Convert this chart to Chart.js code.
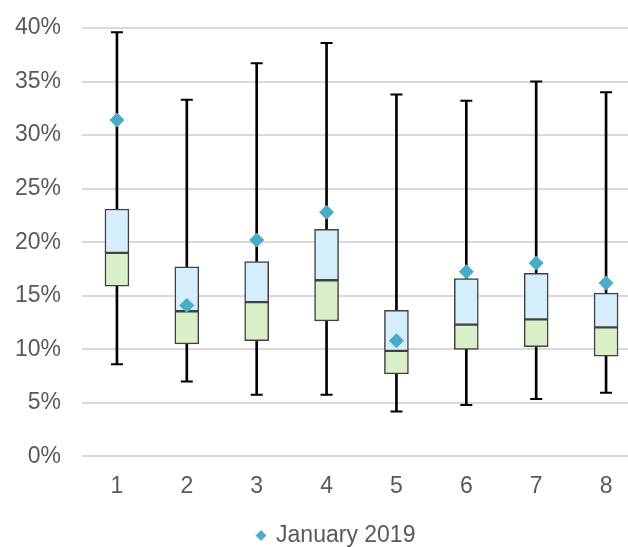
<!DOCTYPE html>
<html>
<head>
<meta charset="utf-8">
<script src="https://cdn.jsdelivr.net/npm/chart.js@4"></script>
<style>
  html, body { margin: 0; padding: 0; background: #fff; overflow: hidden; }
  #wrap { position: relative; width: 649px; height: 547px; }
</style>
</head>
<body>
<div id="wrap"><canvas id="box"></canvas></div>
<script>
// values in percent
const cats = ['1', '2', '3', '4', '5', '6', '7', '8'];
const whiskerMax = [39.6, 33.3, 36.7, 38.6, 33.8, 33.2, 35.0, 34.0];
const q3 = [23.1, 17.7, 18.2, 21.2, 13.65, 16.6, 17.1, 15.25];
const median = [19.0, 13.55, 14.4, 16.45, 9.85, 12.3, 12.8, 12.05];
const q1 = [15.9, 10.5, 10.8, 12.65, 7.7, 10.0, 10.25, 9.35];
const whiskerMin = [8.6, 7.0, 5.75, 5.75, 4.2, 4.8, 5.35, 5.95];
const jan2019 = [31.4, 14.1, 20.2, 22.8, 10.8, 17.25, 18.05, 16.2];
const yTicks = [0, 5, 10, 15, 20, 25, 30, 35, 40];

const TEXT = '#595959', GRID = '#d9d9d9', EDGE = '#404040';
const BLUE = '#d5eefc', GREEN = '#d9efc8', DIAMOND = '#4bacc6';

Chart.defaults.font.family = '"Liberation Sans", Arial, sans-serif';
Chart.defaults.font.size = 23;
Chart.defaults.color = TEXT;

const pair = (a, b) => a.map((v, i) => [v, b[i]]);

const whisker = data => ({
  type: 'bar', data, backgroundColor: '#000', barThickness: 2,
  grouped: false, order: 3, borderWidth: 0
});
const cap = data => ({
  type: 'line', data, showLine: false, pointStyle: 'line', pointRadius: 6,
  borderColor: '#000', pointBorderWidth: 2, order: 2
});
const boxPart = (data, fill) => ({
  type: 'bar', data, backgroundColor: fill, borderColor: EDGE, borderWidth: 1.5,
  borderSkipped: false, barThickness: 24, grouped: false, order: 1
});

// the original legend sits a little right of / below where Chart.js puts it
const LEGEND_DX = 12, LEGEND_DY = 8;
const legendShift = {
  id: 'legendShift',
  afterLayout(chart) {
    const lg = chart.legend;
    if (!lg) return;
    lg.left += LEGEND_DX; lg.right += LEGEND_DX;
    lg.top += LEGEND_DY; lg.bottom += LEGEND_DY;
  }
};

new Chart(document.getElementById('box'), {
  data: {
    labels: cats,
    datasets: [
      Object.assign(whisker(pair(whiskerMin, q1)), { label: 'low' }),
      Object.assign(whisker(pair(q3, whiskerMax)), { label: 'high' }),
      Object.assign(cap(whiskerMin), { label: 'min' }),
      Object.assign(cap(whiskerMax), { label: 'max' }),
      Object.assign(boxPart(pair(q1, median), GREEN), { label: 'q1' }),
      Object.assign(boxPart(pair(median, q3), BLUE), { label: 'q3' }),
      {
        type: 'line', label: 'January 2019', data: jan2019, showLine: false,
        pointStyle: 'rectRot', pointRadius: 7, pointBackgroundColor: DIAMOND,
        pointBorderColor: DIAMOND, pointBorderWidth: 1, backgroundColor: DIAMOND,
        borderColor: DIAMOND, order: 0
      }
    ]
  },
  options: {
    responsive: true, maintainAspectRatio: false, animation: false,
    layout: { padding: { left: 0, top: 28, right: 0, bottom: -2 } },
    plugins: {
      tooltip: { enabled: false },
      legend: {
        position: 'bottom',
        labels: {
          filter: item => item.text === 'January 2019',
          usePointStyle: true, boxWidth: 7, boxHeight: 7, padding: 0,
          color: TEXT, font: { size: 23 }
        }
      }
    },
    scales: {
      x: {
        grid: { display: false, drawTicks: false },
        border: { display: false },
        ticks: { padding: 16, color: TEXT }
      },
      y: {
        min: 0, max: 40,
        afterBuildTicks: s => { s.ticks = yTicks.map(v => ({ value: v })); },
        afterFit: s => { s.width = 82; s.paddingTop = 0; s.paddingBottom = 0; },
        grid: { color: GRID, lineWidth: 2, drawTicks: false },
        border: { display: false },
        ticks: { padding: 21, color: TEXT, callback: v => v + '%' }
      }
    }
  },
  plugins: [legendShift]
});
</script>
</body>
</html>
